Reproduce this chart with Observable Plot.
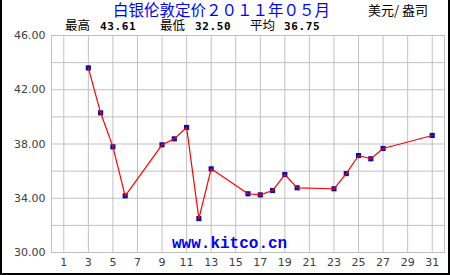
<!DOCTYPE html>
<html><head><meta charset="utf-8">
<script src="https://cdn.jsdelivr.net/npm/d3@7"></script>
<script src="https://cdn.jsdelivr.net/npm/@observablehq/plot@0.6"></script>
<style>
body{margin:0;background:#fff;}
#wrap{position:relative;width:450px;height:275px;overflow:hidden;background:#fff;}
#wrap svg{display:block;position:absolute;left:0;top:0;}
.t{position:absolute;white-space:pre;line-height:1;}
#border{position:absolute;left:0;top:0;width:450px;height:275px;box-sizing:border-box;border:2px solid #000;border-top:none;pointer-events:none;}
</style></head>
<body>
<div id="wrap"></div>
<script>
const days   = [3, 4, 5, 6, 9, 10, 11, 12, 13, 16, 17, 18, 19, 20, 23, 24, 25, 26, 27, 31];
const prices = [43.61, 40.30, 37.79, 34.18, 37.94, 38.38, 39.22, 32.50, 36.17, 34.33, 34.25, 34.57, 35.75, 34.77, 34.70, 35.82, 37.15, 36.91, 37.67, 38.63];
const xTicks = [1, 3, 5, 7, 9, 11, 13, 15, 17, 19, 21, 23, 25, 27, 29, 31];
const yGrid  = [30, 32, 34, 36, 38, 40, 42, 44, 46];
const yTicks = [30, 34, 38, 42, 46];
const title = "白银伦敦定价２０１１年０５月";
const unit = "美元/ 盎司";
const stats = [["最高", "43.61"], ["最低", "32.50"], ["平均", "36.75"]];
const site = "www.kitco.cn";

const data = days.map((d, i) => ({day: d, price: prices[i]}));

const chart = Plot.plot({
  width: 450, height: 275,
  marginLeft: 51, marginRight: 6, marginTop: 35, marginBottom: 23,
  style: {fontFamily: "DejaVu Sans", fontSize: "11px", color: "#404040", background: "transparent"},
  x: {domain: [0, 32], label: null},
  y: {domain: [30, 46], label: null},
  marks: [
    Plot.gridX(xTicks, {stroke: "#c0c0c0", strokeOpacity: 1}),
    Plot.gridY(yGrid, {stroke: "#c0c0c0", strokeOpacity: 1}),
    Plot.frame({stroke: "#c0c0c0"}),
    Plot.dot(data, {x: "day", y: "price", symbol: "square", r: 2.9, fill: "#0c0caa", stroke: "none"}),
    Plot.line(data, {x: "day", y: "price", stroke: "#ff0000", strokeWidth: 1.2}),
    Plot.axisX(xTicks, {tickSize: 0, tickPadding: 6, tickFormat: d => String(d), fill: "#404040"}),
    Plot.axisY(yTicks, {tickSize: 0, tickPadding: 6, tickFormat: d => d.toFixed(2), fill: "#404040"})
  ]
});
const wrap = document.getElementById("wrap");
wrap.appendChild(chart);

function addText(txt, left, top, css) {
  const el = document.createElement("div");
  el.className = "t";
  el.textContent = txt;
  el.style.left = left + "px";
  el.style.top = top + "px";
  Object.assign(el.style, css);
  wrap.appendChild(el);
  return el;
}
const cjk = "'Noto Sans CJK SC', sans-serif";
addText(title, 113, 2, {fontFamily: cjk, fontSize: "15.5px", color: "#0000ff"});
addText(unit, 368, 3, {fontFamily: cjk, fontSize: "13px", color: "#000"});
const statX = [65, 160, 250];
const numX = [100, 195, 284];
stats.forEach(([k, v], i) => {
  addText(k, statX[i], 19, {fontFamily: cjk, fontSize: "12.5px", color: "#000"});
  addText(v, numX[i], 20.5, {fontFamily: "'DejaVu Sans Mono', monospace", fontWeight: "bold", fontSize: "11px", letterSpacing: "0.6px", color: "#000"});
});
addText(site, 172, 236, {fontFamily: "'Liberation Mono', monospace", fontWeight: "bold", fontSize: "16px", color: "#0000ff"});
const b = document.createElement("div"); b.id = "border"; wrap.appendChild(b);
</script>
</body></html>
